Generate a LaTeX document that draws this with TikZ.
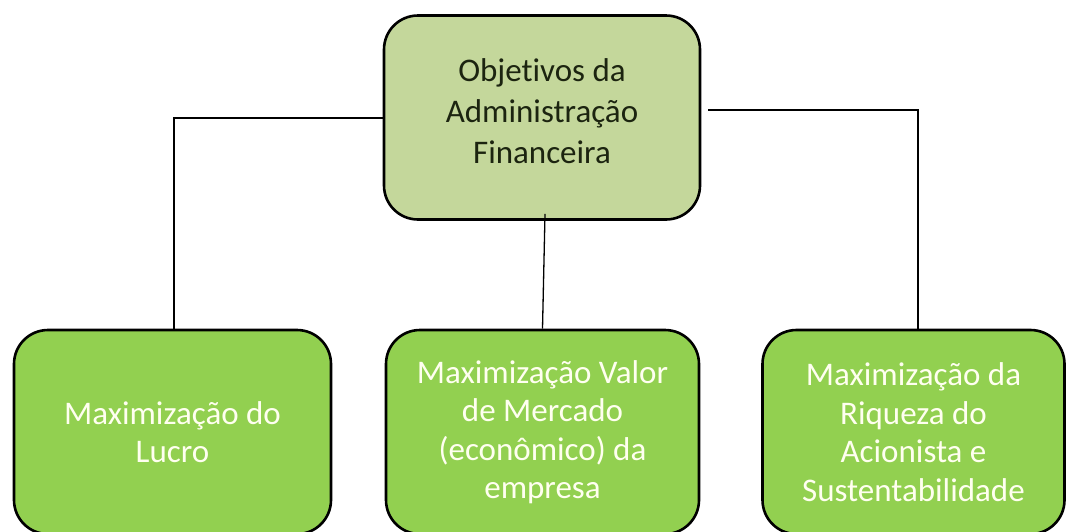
\documentclass[tikz,border=0pt]{standalone}
\usepackage{fontspec}
\setmainfont{Carlito}[Ligatures=NoCommon]
\definecolor{topfill}{HTML}{C4D79B}
\definecolor{botfill}{HTML}{92D050}
\definecolor{toptext}{HTML}{1C2410}
\definecolor{bottext}{HTML}{FFFFF0}
\begin{document}
\begin{tikzpicture}[x=1pt,y=-1pt,
  box/.style={draw=black, line width=2.6pt, rounded corners=34pt, align=center, inner sep=0pt},
  topbox/.style={box, fill=topfill, minimum width=316pt, minimum height=204pt, text=toptext, font=\fontsize{33}{41}\selectfont},
  botbox/.style={box, fill=botfill, minimum height=204pt, text=bottext, font=\fontsize{33}{38.5}\selectfont},
  link/.style={draw=black, line width=1.3pt}]
\useasboundingbox (0,0) rectangle (1067,531);
\clip (0,0) rectangle (1067,531);
\node[topbox, text depth=12pt] (top) at (542,117.5) {Objetivos da\\Administração\\Financeira};
\node[botbox, minimum width=317pt] (left) at (172.5,432) {Maximização do\\Lucro};
\node[botbox, minimum width=313pt] (mid) at (542.5,432) {Maximização Valor\\de Mercado\\(econômico) da\\empresa};
\node[botbox, minimum width=302pt] (right) at (913.5,432) {Maximização da\\Riqueza do\\Acionista e\\Sustentabilidade};
\coordinate (lc) at (174,118);
\coordinate (rc) at (918,110);
\draw[link] (top.west |- lc) -- (lc) -- (lc |- left.north);
\draw[link] ([xshift=7pt]top.east |- rc) -- (rc) -- (rc |- right.north);
\draw[link] ([xshift=3pt,yshift=7pt]top.south) -- (mid.north);
\end{tikzpicture}
\end{document}
